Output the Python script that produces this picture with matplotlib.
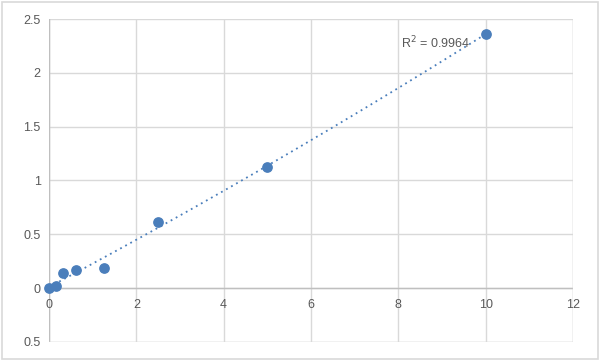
import numpy as np
import matplotlib
matplotlib.use("Agg")
import matplotlib.pyplot as plt
from matplotlib.patches import Rectangle

x_vals = [0, 0.156, 0.3125, 0.625, 1.25, 2.5, 5, 10]
y_vals = [0.0, 0.02, 0.14, 0.17, 0.19, 0.61, 1.13, 2.36]
x_ticks = [0, 2, 4, 6, 8, 10, 12]
y_ticks = [-0.5, 0, 0.5, 1, 1.5, 2, 2.5]
y_tick_labels = ["0.5", "0", "0.5", "1", "1.5", "2", "2.5"]
r2_label = "R$^2$ = 0.9964"

plt.rcParams['font.family'] = ['Liberation Sans', 'DejaVu Sans']
fig = plt.figure(figsize=(6, 3.61), dpi=100)
fig.patches.append(Rectangle((0.004, 0.006), 0.992, 0.988, transform=fig.transFigure,
                             fill=False, edgecolor='#d9d9d9', linewidth=1.2))
ax = fig.add_axes([49/600, 1-342/361, (573-49)/600, (342-19)/361])

ax.set_xlim(0, 12)
ax.set_ylim(-0.5, 2.5)
for s in ax.spines.values():
    s.set_visible(False)
ax.grid(True, color='#d9d9d9', linewidth=1)
ax.set_axisbelow(True)
ax.axhline(0, color='#bfbfbf', linewidth=1, zorder=1)
ax.axvline(0, color='#bfbfbf', linewidth=1, zorder=1)
ax.axhline(-0.5, color='#d9d9d9', linewidth=1, zorder=1)
ax.axvline(12, color='#d9d9d9', linewidth=1, zorder=1)

ax.set_xticks(x_ticks)
ax.set_yticks(y_ticks)
ax.set_yticklabels(y_tick_labels)
ax.tick_params(length=0, labelsize=9, colors='#595959', pad=6)
# x labels at y=0 line
ax.set_xticklabels([])
for t in x_ticks:
    ax.annotate(str(t), xy=(t, 0), xytext=(0, -8), textcoords='offset points',
                ha='center', va='top', fontsize=9, color='#595959')

coef = np.polyfit(x_vals, y_vals, 2)
xf = np.linspace(0, 10, 200)
ax.plot(xf, np.polyval(coef, xf), linestyle=(0, (1, 2.2)), color='#4a7ebb', linewidth=1.3, zorder=2)
ax.scatter(x_vals, y_vals, s=45, color='#4a7ebb', zorder=3, clip_on=False)
ax.text(8.06, 2.28, r2_label, fontsize=9, color='#595959', va='center', ha='left')

fig.savefig('out.png', dpi=100)
